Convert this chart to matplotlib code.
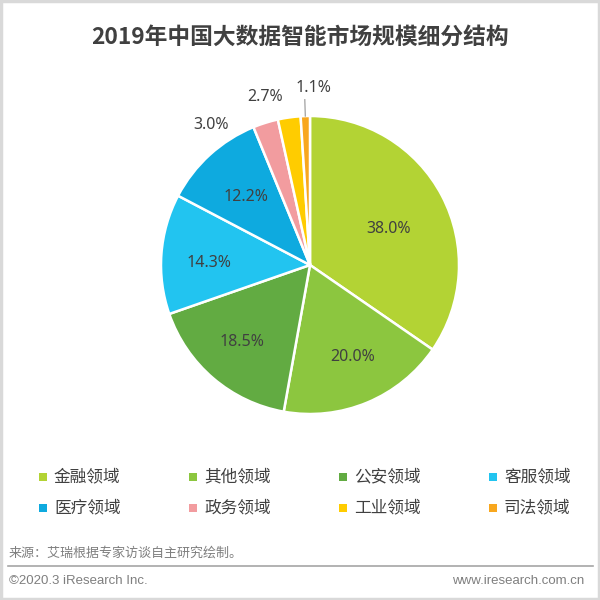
import matplotlib
matplotlib.use("Agg")
import matplotlib.pyplot as plt
from matplotlib.patches import Rectangle
from matplotlib.lines import Line2D
import numpy as np

plt.rcParams['font.family'] = ['Noto Sans CJK SC', 'DejaVu Sans']

title = "2019年中国大数据智能市场规模细分结构"
categories = ["金融领域", "其他领域", "公安领域", "客服领域", "医疗领域", "政务领域", "工业领域", "司法领域"]
values = [38.0, 20.0, 18.5, 14.3, 12.2, 3.0, 2.7, 1.1]
colors = ["#b3d334", "#8cc63f", "#62ab42", "#22c4f0", "#0eaadf", "#f29c9f", "#ffcc00", "#f8a71e"]
source_text = "来源：艾瑞根据专家访谈自主研究绘制。"
copyright_text = "©2020.3 iResearch Inc."
website_text = "www.iresearch.com.cn"

# label placement style (radius in pie units, angle offset in degrees)
label_r = [0.58, 0.68, 0.69, 0.68, 0.63, 1.15, 1.17, 1.19]
label_dang = [-3, 2, -1, 3, 1, 18, 7, -3]

W = H = 600
fig = plt.figure(figsize=(6, 6), dpi=100)
fig.patch.set_facecolor("white")

def fx(px):
    return px / W

def fy(py):
    return 1 - py / H

# border
fig.add_artist(Rectangle((0.0015, 0.0015), 0.997, 0.997, transform=fig.transFigure,
                         fill=False, edgecolor="#d9d9d9", linewidth=2.5))

# title
fig.text(fx(300), fy(37), title, ha="center", va="center", fontsize=16.4,
         fontweight="bold", color="#404040")

# pie
cx, cy, R = 310, 265, 149
ax = fig.add_axes([fx(cx - R), fy(cy + R), 2 * R / W, 2 * R / H])
wedges, _ = ax.pie(values, colors=colors, startangle=90, counterclock=False,
                   wedgeprops=dict(edgecolor="white", linewidth=1.8))
ax.set_xlim(-1, 1)
ax.set_ylim(-1, 1)
ax.set_aspect("equal")
ax.axis("off")

for i, (w, v) in enumerate(zip(wedges, values)):
    mid = (w.theta1 + w.theta2) / 2.0
    ang = np.deg2rad(mid + label_dang[i])
    r = label_r[i]
    ax.text(r * np.cos(ang), r * np.sin(ang), f"{v:.1f}%", ha="center", va="center",
            fontsize=11.5, color="#404040", clip_on=False,
            family=["Noto Sans", "DejaVu Sans"])
    if i == len(values) - 1:
        a = np.deg2rad(mid)
        ax.plot([np.cos(a), 1.11 * np.cos(a)], [np.sin(a), 1.11 * np.sin(a)],
                color="#a0a0a0", linewidth=0.9, clip_on=False)

# legend
for i, (lab, col) in enumerate(zip(categories, colors)):
    row, c = divmod(i, 4)
    x = 43 + 150 * c
    y = 477 + 31 * row
    fig.add_artist(Rectangle((fx(x - 4), fy(y + 4)), 8 / W, 8 / H,
                             transform=fig.transFigure, facecolor=col, edgecolor="none"))
    fig.text(fx(x + 11), fy(y), lab, ha="left", va="center", fontsize=12, color="#404040")

# source
fig.text(fx(9), fy(553), source_text, ha="left", va="center", fontsize=9.4, color="#7f7f7f")
fig.add_artist(Line2D([fx(8), fx(593)], [fy(566), fy(566)], transform=fig.transFigure,
                      color="#a6a6a6", linewidth=1.2))
fig.text(fx(9), fy(581), copyright_text, ha="left", va="center", fontsize=9.5,
         color="#7f7f7f", family=["Liberation Sans", "DejaVu Sans"])
fig.text(fx(584), fy(581), website_text, ha="right", va="center", fontsize=9.5,
         color="#7f7f7f", family=["Liberation Sans", "DejaVu Sans"])

fig.savefig("out.png", dpi=100, facecolor="white")
